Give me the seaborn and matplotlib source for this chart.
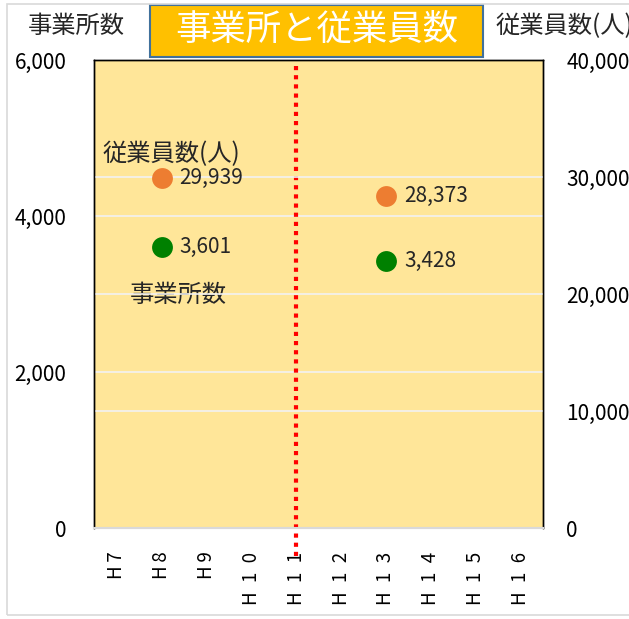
"""
事業所と従業員数 -- two-axis dot chart (establishments / employees by year).
"""

import matplotlib
matplotlib.use("Agg")
import matplotlib.pyplot as plt
import matplotlib.ticker as mticker
import seaborn as sns
import pandas as pd

# ---- data ----------------------------------------------------------------
years = ["H\u20097", "H\u20098", "H\u20099", "H\u20021\u20020", "H\u20021\u20021",
         "H\u20021\u20022", "H\u20021\u20023", "H\u20021\u20024", "H\u20021\u20025",
         "H\u20021\u20026"]
survey_years = [years[1], years[6]]
establishments = [3601, 3428]
employees = [29939, 28373]
marker_line_year = years[4]

left_ticks = [0, 2000, 4000, 6000]
right_ticks = [0, 10000, 20000, 30000, 40000]

ORANGE = "#ED7D31"
GREEN = "#008000"
BG = "#FFE699"

sns.set_theme(style="white")
plt.rcParams["font.family"] = ["Noto Sans CJK JP", "DejaVu Sans"]

df_est = pd.DataFrame({"year": survey_years, "value": establishments})
df_emp = pd.DataFrame({"year": survey_years, "value": employees})

fig = plt.figure(figsize=(6.29, 6.19), dpi=100)
ax = fig.add_axes([0.150, 0.147, 0.713, 0.756])
ax2 = ax.twinx()

ax.set_facecolor(BG)
ax2.patch.set_visible(False)

# gridlines for both value axes
for t in left_ticks[1:-1]:
    ax.axhline(t, color="#F2F2F2", lw=1.2, zorder=0)
for t in right_ticks[1:-1]:
    ax2.axhline(t, color="#F2F2F2", lw=1.2, zorder=0)

sns.stripplot(data=df_est, x="year", y="value", order=years, jitter=False,
              color=GREEN, size=15, linewidth=0, ax=ax, zorder=3)
sns.stripplot(data=df_emp, x="year", y="value", order=years, jitter=False,
              color=ORANGE, size=15, linewidth=0, ax=ax2, zorder=3)

ax.set_ylim(0, 6000)
ax2.set_ylim(0, 40000)
ax.set_xlim(-0.5, len(years) - 0.5)
ax.set_yticks(left_ticks)
ax2.set_yticks(right_ticks)
fmt = mticker.FuncFormatter(lambda v, p: f"{int(v):,}")
ax.yaxis.set_major_formatter(fmt)
ax2.yaxis.set_major_formatter(fmt)
for a in (ax, ax2):
    a.set_xlabel("")
    a.set_ylabel("")

ax.tick_params(axis="y", length=0, labelsize=15, pad=20, colors="black")
ax2.tick_params(axis="y", length=0, labelsize=15, pad=17, colors="black")
ax.set_xticks(range(len(years)))
ax.set_xticklabels(years, rotation=90, fontsize=13.5, va="top")
ax.tick_params(axis="x", length=0, pad=17, colors="black")

for a in (ax, ax2):
    for side in ("left", "right", "top"):
        a.spines[side].set_color("black")
        a.spines[side].set_linewidth(1.0)
    a.spines["bottom"].set_color("#D9D9D9")
    a.spines["bottom"].set_linewidth(1.5)

# value labels
xi = {y: i for i, y in enumerate(years)}
for y, v in zip(survey_years, establishments):
    ax.annotate(f"{v:,}", (xi[y], v), xytext=(13, 0), textcoords="offset points",
                va="center", ha="left", fontsize=15, zorder=4)
for y, v in zip(survey_years, employees):
    ax2.annotate(f"{v:,}", (xi[y], v), xytext=(13, 0), textcoords="offset points",
                 va="center", ha="left", fontsize=15, zorder=4)

# series name labels
ax.text(0.018, 0.800, "従業員数(人)", transform=ax.transAxes, fontsize=17.5, va="center")
ax.text(0.078, 0.497, "事業所数", transform=ax.transAxes, fontsize=17.5, va="center")

# red dotted reference line
ax.axvline(xi[marker_line_year], ymin=-0.06, ymax=1.0, color="red", lw=3,
           linestyle=(0, (1, 1.2)), clip_on=False, zorder=5)

# axis titles and chart title
fig.text(0.044, 0.958, "事業所数", fontsize=17.5, va="center", ha="left")
fig.text(0.787, 0.958, "従業員数(人)", fontsize=17.5, va="center", ha="left")
fig.patches.append(plt.Rectangle((0.2385, 0.908), 0.5295, 0.084, transform=fig.transFigure,
                                 facecolor="#FFC000", edgecolor="#41719C", linewidth=1.5))
fig.text(0.503, 0.951, "事業所と従業員数", fontsize=25.5, color="white",
         va="center", ha="center")

# chart area border
fig.patches.append(plt.Rectangle((0.011, 0.006), 1.2, 0.988, transform=fig.transFigure,
                                 fill=False, edgecolor="#D9D9D9", linewidth=1.2))

fig.savefig("out.png", dpi=100)
